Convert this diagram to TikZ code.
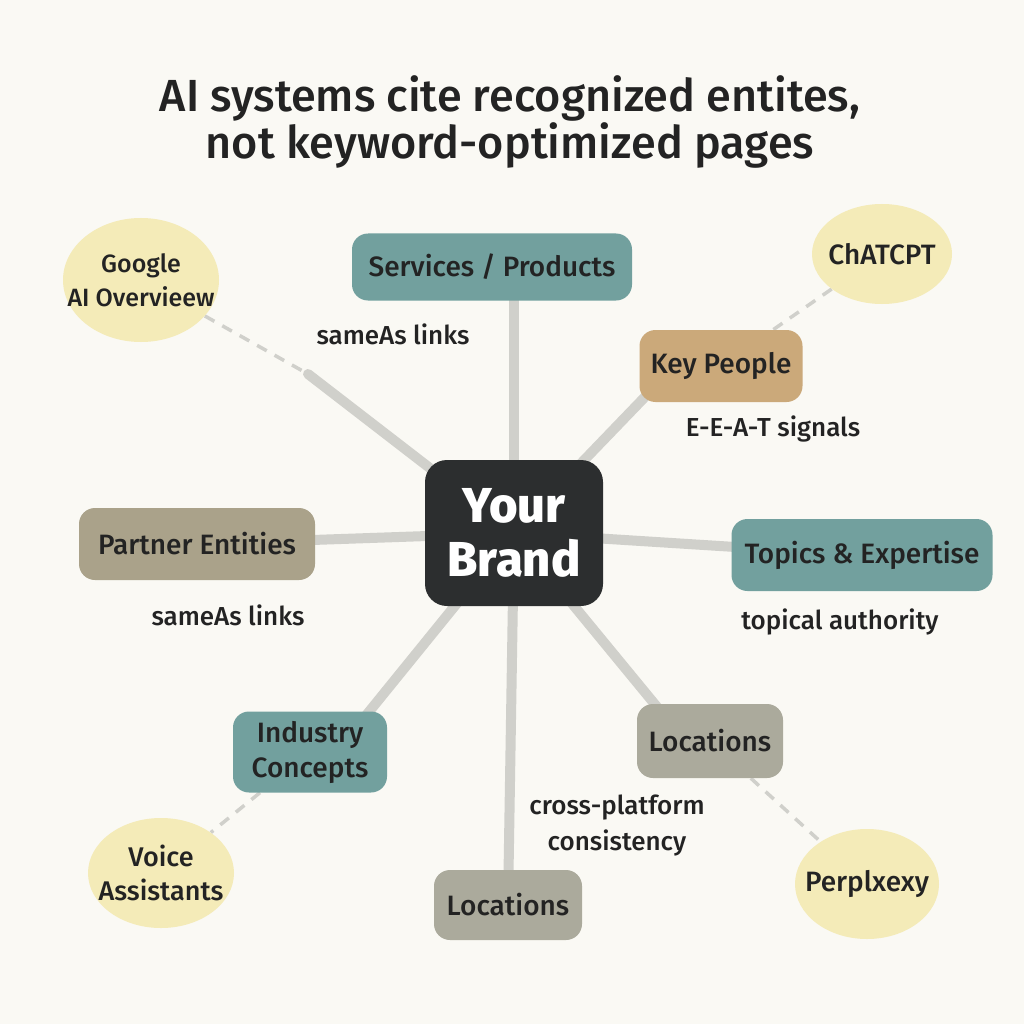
\documentclass[tikz,border=0pt]{standalone}
\usepackage{fontspec}
\setmainfont{Fira Sans Medium}
\usetikzlibrary{positioning,shapes.geometric,backgrounds,calc}
\definecolor{paper}{HTML}{FAF9F4}
\definecolor{inkdark}{HTML}{232323}
\definecolor{brandbg}{HTML}{2C2E2F}
\definecolor{tealbox}{HTML}{72A09E}
\definecolor{tanbox}{HTML}{CBA97A}
\definecolor{greybox}{HTML}{ABAA9C}
\definecolor{taupebox}{HTML}{AAA28A}
\definecolor{aiyellow}{HTML}{F4EBB8}
\definecolor{spoke}{HTML}{D0D0CB}

\begin{document}
\begin{tikzpicture}[x=1pt, y=1pt,
    every node/.style={text=inkdark, font=\fontsize{28}{35}\selectfont, align=center},
    topic/.style={rounded corners=16pt, inner sep=0pt},
    aitool/.style={ellipse, fill=aiyellow, inner xsep=-40pt, inner ysep=-30pt},
    note/.style={font=\fontsize{26}{36}\selectfont},
    spokeline/.style={draw=spoke, line width=10pt, line cap=round},
    tieline/.style={draw=spoke, line width=3.5pt, dash pattern=on 11pt off 9pt}]
    \useasboundingbox (0,0) rectangle (1024,-1024);

    % title
    \node (title) [font=\fontsize{45}{45}\selectfont] at (510,-122) {AI systems cite recognized entites,\\ not keyword-optimized pages};

    % hub
    \node (brand) [topic, fill=brandbg, text=white, minimum width=178pt, minimum height=146pt, rounded corners=22pt,
        font=\fontsize{49}{54}\selectfont\bfseries] at (514,-533) {Your\\Brand};

    % entity boxes
    \node (svc)   [topic, fill=tealbox, minimum width=280pt, minimum height=67pt] at (492,-267) {Services / Products};
    \node (ppl)   [topic, fill=tanbox, minimum width=163pt, minimum height=72pt] at (721,-366) {Key People};
    \node (topx)  [topic, fill=tealbox, minimum width=261pt, minimum height=72pt] at (862,-555) {Topics \& Expertise};
    \node (locr)  [topic, fill=greybox, minimum width=146pt, minimum height=74pt] at (710,-741) {Locations};
    \node (locb)  [topic, fill=greybox, minimum width=148pt, minimum height=70pt] at (508,-905) {Locations};
    \node (ind)   [topic, fill=tealbox, minimum width=154pt, minimum height=81pt] at (310,-752) {Industry\\Concepts};
    \node (part)  [topic, fill=taupebox, minimum width=236pt, minimum height=72pt] at (197,-544) {Partner Entities};

    % AI answer engines
    \node (goog)  [aitool, minimum width=156pt, minimum height=124pt, font=\fontsize{25}{34}\selectfont] at (141,-280) {Google\\AI Overvieew};
    \node (gpt)   [aitool, minimum width=140pt, minimum height=100pt] at (882,-254) {ChATCPT};
    \node (voice) [aitool, minimum width=146pt, minimum height=110pt, font=\fontsize{27}{34}\selectfont] at (161,-873) {Voice\\Assistants};
    \node (pplx)  [aitool, minimum width=144pt, minimum height=110pt] at (867,-884) {Perplxexy};

    % notes
    \node (n1) [note] at (393,-334) {sameAs links};
    \node (n2) [note] at (773,-429) {E-E-A-T signals};
    \node (n3) [note] at (228,-615) {sameAs links};
    \node (n4) [note] at (840,-622) {topical authority};
    \node (n5) [note] at (617,-826) {cross-platform\\consistency};

    \coordinate (loose) at (308,-374);

    \begin{scope}[on background layer]
    \fill[paper] (0,0) rectangle (1024,-1024);
    % spokes
    \path[spokeline] (brand.center) -- (brand.center |- svc.center);
    \path[spokeline] (brand.center) -- ($(ppl.south west)+(15,15)$);
    \path[spokeline] (brand.center) -- (topx.center);
    \path[spokeline] (brand.center) -- ($(locr.north west)+(30,-15)$);
    \path[spokeline] (brand.center) -- (locb.center);
    \path[spokeline] (brand.center) -- ($(ind.north east)+(-30,-15)$);
    \path[spokeline] (brand.center) -- (part.center);
    \path[spokeline] (brand.center) -- (loose);
    % dashed ties
    \path[tieline] (goog) -- (loose);
    \path[tieline] (gpt) -- (ppl);
    \path[tieline] (ind) -- (voice);
    \path[tieline] (locr) -- (pplx);
    \end{scope}
\end{tikzpicture}
\end{document}
